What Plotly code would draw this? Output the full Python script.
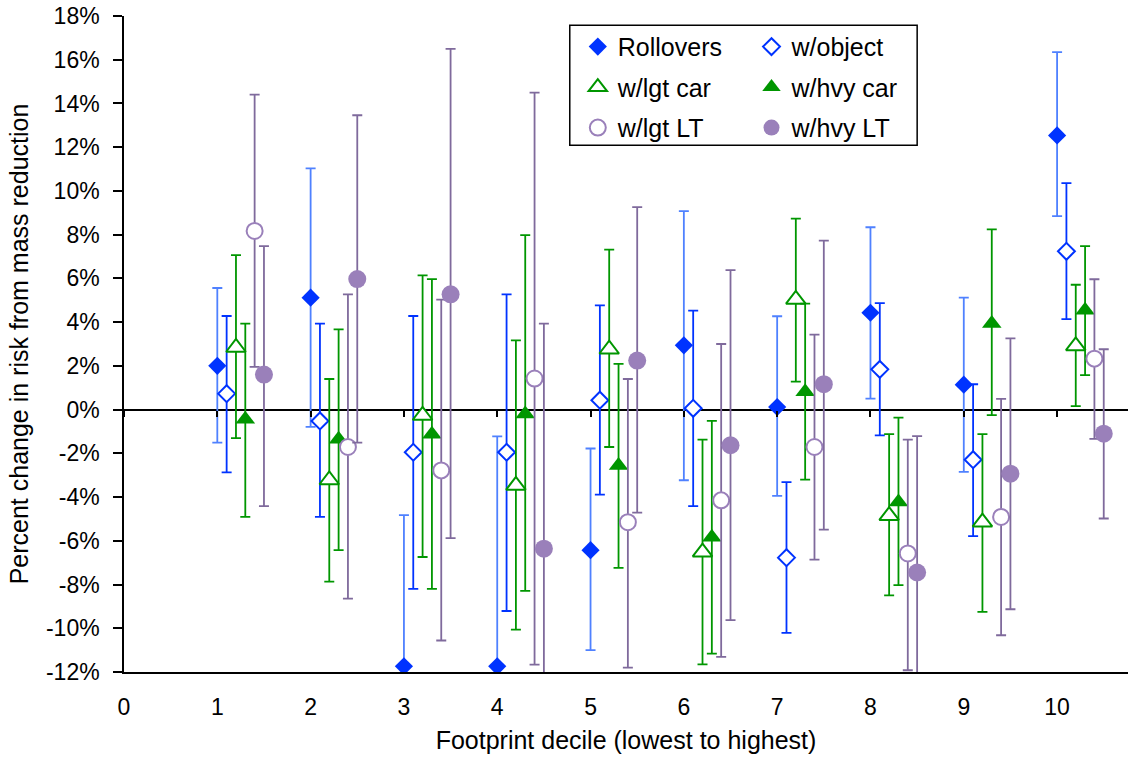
import plotly.graph_objects as go

deciles = [1, 2, 3, 4, 5, 6, 7, 8, 9, 10]

rollovers_val = [2.0, 5.12, -11.74, -11.74, -6.43, 2.94, 0.12, 4.43, 1.14, 12.54]
rollovers_lo = [-1.51, -0.79, -18.0, -18.0, -11.0, -3.23, -3.95, 0.5, -2.85, 8.85]
rollovers_hi = [5.56, 11.03, -4.83, -1.22, -1.78, 9.08, 4.27, 8.34, 5.12, 16.35]

object_val = [0.73, -0.52, -1.95, -1.95, 0.43, 0.06, -6.77, 1.84, -2.29, 7.24]
object_lo = [-2.87, -4.91, -8.2, -9.21, -3.89, -4.41, -10.21, -1.18, -5.79, 4.14]
object_hi = [4.28, 3.93, 4.28, 5.27, 4.77, 4.53, -3.32, 4.87, 1.16, 10.36]

lgtcar_val = [2.84, -3.22, -0.27, -3.47, 2.76, -6.52, 5.04, -4.85, -5.15, 2.91]
lgtcar_lo = [-1.3, -7.87, -6.74, -10.06, -1.71, -11.65, 1.28, -8.5, -9.25, 0.16]
lgtcar_hi = [7.06, 1.4, 6.14, 3.17, 7.32, -1.37, 8.73, -1.12, -1.12, 5.71]

hvycar_val = [-0.44, -1.36, -1.13, -0.2, -2.56, -5.84, 0.82, -4.22, 3.94, 4.54]
hvycar_lo = [-4.91, -6.43, -8.2, -8.29, -7.24, -11.16, -3.2, -8.03, -0.25, 1.58]
hvycar_hi = [3.93, 3.67, 5.97, 7.98, 2.09, -0.52, 4.85, -0.37, 8.24, 7.48]

lgtlt_val = [8.17, -1.71, -2.78, 1.42, -5.15, -4.15, -1.71, -6.58, -4.91, 2.33]
lgtlt_lo = [1.95, -8.64, -10.56, -11.66, -11.8, -11.31, -6.86, -11.92, -10.32, -1.34]
lgtlt_hi = [14.4, 5.27, 5.03, 14.5, 1.4, 3.0, 3.43, -1.37, 0.49, 5.96]

hvylt_val = [1.6, 5.97, 5.27, -6.36, 2.24, -1.63, 1.16, -7.45, -2.93, -1.1]
hvylt_lo = [-4.41, -1.51, -5.88, -16.0, -4.71, -9.63, -5.49, -14.0, -9.13, -4.98]
hvylt_hi = [7.48, 13.46, 16.5, 3.93, 9.26, 6.38, 7.73, -1.21, 3.26, 2.76]

x_tickvals = [0, 1, 2, 3, 4, 5, 6, 7, 8, 9, 10]
x_ticktext = ["0", "1", "2", "3", "4", "5", "6", "7", "8", "9", "10"]
y_tickvals = [-12, -10, -8, -6, -4, -2, 0, 2, 4, 6, 8, 10, 12, 14, 16, 18]
y_ticktext = ["-12%", "-10%", "-8%", "-6%", "-4%", "-2%", "0%", "2%", "4%",
              "6%", "8%", "10%", "12%", "14%", "16%", "18%"]

BLUE = "#0033FF"
LBLUE = "#4F81FF"
GREEN = "#009600"
PURP = "#9A80BA"
DPURP = "#7F6A9C"

series = [
    ("Rollovers", rollovers_val, rollovers_lo, rollovers_hi, 0.0, "diamond", 14, BLUE, BLUE, LBLUE, "legend"),
    ("w/object", object_val, object_lo, object_hi, 0.1, "diamond", 13, "white", BLUE, BLUE, "legend2"),
    ("w/lgt car", lgtcar_val, lgtcar_lo, lgtcar_hi, 0.2, "triangle-up", 17, "white", GREEN, GREEN, "legend"),
    ("w/hvy car", hvycar_val, hvycar_lo, hvycar_hi, 0.3, "triangle-up", 17, GREEN, GREEN, GREEN, "legend2"),
    ("w/lgt LT", lgtlt_val, lgtlt_lo, lgtlt_hi, 0.4, "circle", 16, "white", PURP, DPURP, "legend"),
    ("w/hvy LT", hvylt_val, hvylt_lo, hvylt_hi, 0.5, "circle", 18, PURP, PURP, DPURP, "legend2"),
]

fig = go.Figure()
for name, val, lo, hi, off, sym, size, fill, lc, ec, leg in series:
    xs = [d + off for d in deciles]
    plus = [h - v for h, v in zip(hi, val)]
    minus = [v - l for v, l in zip(val, lo)]
    fig.add_trace(go.Scatter(
        x=xs, y=val, mode="markers", name=name, legend=leg, legendgroup=name,
        marker=dict(symbol=sym, size=size, color=fill,
                    line=dict(color=lc, width=2 if fill == "white" else 0)),
        error_y=dict(type="data", symmetric=False, array=plus, arrayminus=minus,
                     color=ec, thickness=1.8, width=5),
    ))

# invisible trace on overlay axis to show ticks on the zero line
fig.add_trace(go.Scatter(x=[0], y=[0], xaxis="x2", mode="markers",
                         marker=dict(opacity=0), showlegend=False, hoverinfo="skip"))

font_family = "Liberation Sans, Arial, sans-serif"
legend_common = dict(
    font=dict(family=font_family, size=25, color="black"),
    bgcolor="rgba(0,0,0,0)", borderwidth=0, traceorder="grouped",
    tracegroupgap=5, itemwidth=30, xanchor="left", yanchor="top",
)

fig.update_layout(
    width=1128, height=758,
    margin=dict(l=124, r=0, t=16, b=86),
    paper_bgcolor="white", plot_bgcolor="white",
    font=dict(family=font_family, size=23, color="black"),
    showlegend=True,
    legend=dict(x=0.452, y=0.988, **legend_common),
    legend2=dict(x=0.625, y=0.988, **legend_common),
    xaxis=dict(range=[0, 10.76], tickvals=x_tickvals, ticktext=x_ticktext,
               showgrid=False, zeroline=False, showline=True, linecolor="black",
               linewidth=2, ticks="", ticklabelstandoff=13,
               tickfont=dict(size=23),
               title=dict(text="Footprint decile (lowest to highest)",
                          font=dict(size=25), standoff=13)),
    xaxis2=dict(range=[0, 10.76], overlaying="x", anchor="free", position=0.4,
                side="bottom", tickvals=x_tickvals, showticklabels=False,
                ticks="outside", ticklen=6, tickcolor="black", tickwidth=1.5,
                showgrid=False, zeroline=False, showline=False),
    yaxis=dict(range=[-12, 18], tickvals=y_tickvals, ticktext=y_ticktext,
               showgrid=False, zeroline=True, zerolinecolor="black", zerolinewidth=1.5,
               showline=True, linecolor="black", linewidth=1.5,
               ticks="outside", ticklen=9, tickcolor="black", tickwidth=1.5,
               ticklabelstandoff=9, tickfont=dict(size=23),
               ticklabeloverflow="allow",
               title=dict(text="Percent change in risk from mass reduction",
                          font=dict(size=25), standoff=10)),
    shapes=[dict(type="rect", xref="paper", yref="paper",
                 x0=0.444, x1=0.790, y0=0.803, y1=0.986,
                 line=dict(color="black", width=1.5), fillcolor="rgba(0,0,0,0)",
                 layer="above")],
)

fig.write_html("out.html", config={"displayModeBar": False},
               post_script="document.body.style.margin='0';document.body.style.overflow='hidden';")
